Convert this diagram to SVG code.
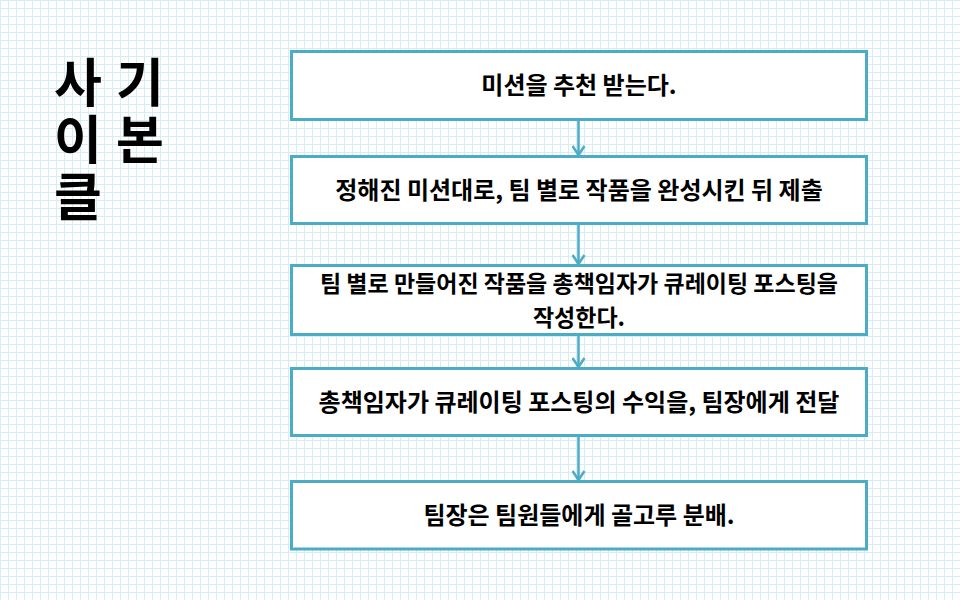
<svg xmlns="http://www.w3.org/2000/svg" width="960" height="600" viewBox="0 0 960 600">
<style>
.box{fill:#fff;stroke:#4bacc6;stroke-width:3}
.lbl{font-family:"Noto Sans CJK KR","Noto Sans",sans-serif;font-size:24px;font-weight:bold;fill:#000;text-anchor:middle}
.sm{font-size:23px}
.ttl{font-family:"Noto Sans CJK KR","Noto Sans",sans-serif;font-size:52px;font-weight:bold;fill:#000;writing-mode:vertical-rl;text-orientation:upright;letter-spacing:5px}
.con{stroke:#4bacc6;stroke-width:2.5;fill:none}
</style>
<defs>
<pattern id="grid" width="8" height="8" patternUnits="userSpaceOnUse">
<rect x="0" y="0" width="8" height="1" fill="#d5eef6"/>
<rect x="0" y="0" width="1" height="8" fill="#d5eef6"/>
</pattern>
<marker id="arr" markerWidth="12" markerHeight="14" refX="10" refY="7" orient="auto" markerUnits="userSpaceOnUse" viewBox="0 0 12 14">
<path d="M1,1 L10,7 L1,13" fill="none" stroke="#4bacc6" stroke-width="2.5"/>
</marker>
</defs>
<rect width="960" height="600" fill="#fff"/>
<rect width="960" height="600" fill="url(#grid)"/>
<g id="title">
<text class="ttl" x="78" y="56">사이클</text>
<text class="ttl" x="140" y="56">기본</text>
</g>
<g id="connectors">
<line class="con" x1="578.5" y1="119.5" x2="578.5" y2="155" marker-end="url(#arr)"/>
<line class="con" x1="578.5" y1="223.5" x2="578.5" y2="264" marker-end="url(#arr)"/>
<line class="con" x1="578.5" y1="334.5" x2="578.5" y2="367" marker-end="url(#arr)"/>
<line class="con" x1="578.5" y1="435.5" x2="578.5" y2="480" marker-end="url(#arr)"/>
</g>
<g id="n1">
<rect class="box" x="291.5" y="51.5" width="575" height="68"/>
<text class="lbl" x="579" y="94">미션을 추천 받는다.</text>
</g>
<g id="n2">
<rect class="box" x="291.5" y="156.5" width="575" height="67"/>
<text class="lbl" x="579" y="198.5">정해진 미션대로, 팀 별로 작품을 완성시킨 뒤 제출</text>
</g>
<g id="n3">
<rect class="box" x="291.5" y="265.5" width="575" height="69"/>
<text class="lbl sm"><tspan x="579" y="291.5">팀 별로 만들어진 작품을 총책임자가 큐레이팅 포스팅을</tspan><tspan x="579" y="325.5">작성한다.</tspan></text>
</g>
<g id="n4">
<rect class="box" x="291.5" y="368.5" width="575" height="67"/>
<text class="lbl" x="579" y="410.5">총책임자가 큐레이팅 포스팅의 수익을, 팀장에게 전달</text>
</g>
<g id="n5">
<rect class="box" x="291.5" y="481.5" width="575" height="67.5"/>
<text class="lbl" x="579" y="523.5">팀장은 팀원들에게 골고루 분배.</text>
</g>
</svg>
